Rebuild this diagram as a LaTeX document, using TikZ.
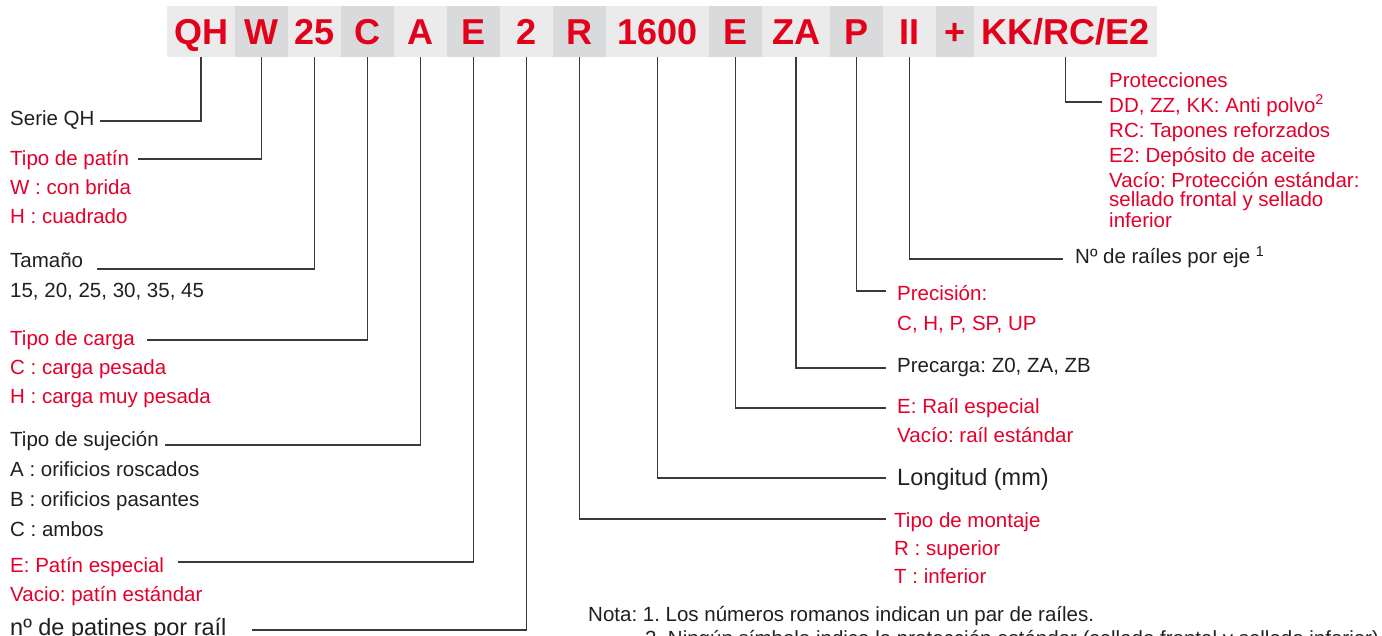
\documentclass[tikz,border=0pt]{standalone}
\usepackage{fontspec}
\setmainfont{Liberation Sans}
\usepackage{xcolor}
\usepackage{tikz}
\usetikzlibrary{positioning}
\definecolor{codered}{HTML}{E2001A}
\definecolor{txtred}{HTML}{E4002B}
\definecolor{txtblack}{HTML}{231F20}
\definecolor{barlite}{HTML}{EBEBEB}
\definecolor{bardark}{HTML}{D9DADB}
\definecolor{leadgray}{HTML}{3A3A3A}
\newcommand{\bodysize}{\fontsize{20.5}{29}\selectfont}
\newcommand{\bigsize}{\fontsize{23.5}{28}\selectfont}
\frenchspacing

\begin{document}
\begin{tikzpicture}[x=1pt, y=-1pt,
		codebox/.style={inner sep=0pt, minimum height=51pt, text height=26pt,
			text depth=0pt, font=\fontsize{36}{40}\selectfont\bfseries, text=codered},
		lbl/.style={anchor=base west, inner sep=0pt, align=left, font=\bodysize,
			text=txtblack},
		redlbl/.style={lbl, text=txtred},
		lead/.style={draw=leadgray, line width=1.3pt}]
		% page
		\fill[white] (0,0) rectangle (1382,636);
		\useasboundingbox (0,0) rectangle (1382,636);
		% code bar: name/text/left/right/shade
		\foreach \nm/\txt/\xa/\xb/\shade in {qh/QH/167/235/barlite,
			w/W/235/288/bardark, sz/25/288/341/barlite, cg/C/341/394/bardark,
			fx/A/394/447/barlite, eb/E/447/500/bardark, np/2/500/553/barlite,
			mt/R/553/606/bardark, len/1600/606/709/barlite, er/E/709/762/bardark,
			pre/ZA/762/830/barlite, acc/P/830/883/bardark, nr/II/883/936/barlite,
			plus/+/936/974/bardark}
		\node[codebox, fill=\shade, minimum width={(\xb-\xa)*1pt}] (\nm)
		at ({(\xa+\xb)/2},31.5) {\txt};
		\node[codebox, fill=barlite, minimum width=183pt] (prot) at (1065.5,31.5)
		{KK/RC/E2};
		% left column (multi-line labels sit on their last baseline)
		\node[lbl] (serie) at (10,126) {Serie QH};
		\coordinate (s-serie) at (100,121);
		\draw[lead] (s-serie) -| (qh.south);
		\node[redlbl] (patin) at (10,224)
		{Tipo de patín\\W : con brida\\H : cuadrado};
		\coordinate (s-patin) at (138,159);
		\draw[lead] (s-patin) -| (w.south);
		\node[lbl, font=\fontsize{20.5}{30}\selectfont] (tamano) at (10,298)
		{Tamaño\\15, 20, 25, 30, 35, 45};
		\coordinate (s-tamano) at (97,269);
		\draw[lead] (s-tamano) -| (sz.south);
		\node[redlbl] (carga) at (10,403)
		{Tipo de carga\\C : carga pesada\\H : carga muy pesada};
		\coordinate (s-carga) at (147,340);
		\draw[lead] (s-carga) -| (cg.south);
		\node[lbl, font=\fontsize{20.5}{29.7}\selectfont] (sujecion) at (10,536)
		{Tipo de sujeción\\A : orificios roscados\\B : orificios pasantes\\C : ambos};
		\coordinate (s-sujecion) at (165,445);
		\draw[lead] (s-sujecion) -| (fx.south);
		\node[redlbl] (patesp) at (10,601)
		{E: Patín especial\\Vacio: patín estándar};
		\coordinate (s-patesp) at (178,562);
		\draw[lead] (s-patesp) -| (eb.south);
		\node[lbl, font=\bigsize] (npat) at (10,635) {nº de patines por raíl};
		\coordinate (s-npat) at (252,630);
		\draw[lead] (s-npat) -| (np.south);
		% right column
		\node[redlbl, font=\fontsize{20.5}{25}\selectfont] (protec) at (1109,187.5)
		{Protecciones\\DD, ZZ, KK: Anti polvo\textsuperscript{2}\\RC: Tapones reforzados\\
			E2: Depósito de aceite\\Vacío: Protección estándar:};
		\node[redlbl, font=\fontsize{20.5}{21}\selectfont] (protec2) at (1109,228)
		{sellado frontal y sellado\\inferior};
		\coordinate (e-protec) at (1102,102);
		\draw[lead] (prot.south) |- (e-protec);
		\node[lbl] (rails) at (1075,264) {Nº de raíles por eje \textsuperscript{1}};
		\coordinate (e-rails) at (1063,259);
		\draw[lead] (nr.south) |- (e-rails);
		\node[redlbl, font=\fontsize{20.5}{31}\selectfont] (precis) at (897,331)
		{Precisión:\\C, H, P, SP, UP};
		\coordinate (e-precis) at (886,291);
		\draw[lead] (acc.south) |- (e-precis);
		\node[lbl] (precarga) at (897,373) {Precarga: Z0, ZA, ZB};
		\coordinate (e-precarga) at (886,368);
		\draw[lead] (pre.south) |- (e-precarga);
		\node[redlbl] (railesp) at (897,442) {E: Raíl especial\\Vacío: raíl estándar};
		\coordinate (e-railesp) at (886,408);
		\draw[lead] (er.south) |- (e-railesp);
		\node[lbl, font=\bigsize] (longit) at (897,485) {Longitud (mm)};
		\coordinate (e-longit) at (886,478);
		\draw[lead] (len.south) |- (e-longit);
		\node[redlbl, font=\fontsize{20.5}{28}\selectfont] (montaje) at (894,583)
		{Tipo de montaje\\R : superior\\T : inferior};
		\coordinate (e-montaje) at (886,519);
		\draw[lead] (mt.south) |- (e-montaje);
		% notes (cut by the page edge)
		\node[lbl] (nota1) at (588,621)
		{Nota: 1. Los números romanos indican un par de raíles.};
		\node[lbl] (nota2) at (645,645)
		{2. Ningún símbolo indica la protección estándar (sellado frontal y sellado inferior).};
	\end{tikzpicture}
\end{document}
